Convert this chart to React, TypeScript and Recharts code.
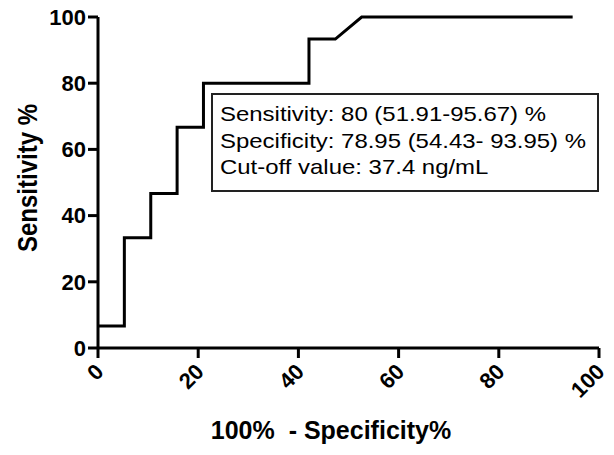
import React from 'react';
import { LineChart, Line, XAxis, YAxis } from 'recharts';

// ROC curve vertices (100% - specificity, sensitivity)
const fpr = [0, 5.26, 5.26, 10.53, 10.53, 15.79, 15.79, 21.05, 21.05, 42.11, 42.11, 47.37, 52.63, 94.74];
const sens = [6.67, 6.67, 33.33, 33.33, 46.67, 46.67, 66.67, 66.67, 80, 80, 93.33, 93.33, 100, 100];
const xTicks = [0, 20, 40, 60, 80, 100];
const yTicks = [0, 20, 40, 60, 80, 100];
const boxLines = [
  'Sensitivity: 80 (51.91-95.67) %',
  'Specificity: 78.95 (54.43- 93.95) %',
  'Cut-off value: 37.4 ng/mL',
];

const data = fpr.map((x, i) => ({ x, y: sens[i] }));
const font = 'Arial, "Liberation Sans", sans-serif';

const XTick = (props: any) => {
  const { x, y, payload } = props;
  return (
    <text
      x={x + 7}
      y={y + 13}
      transform={`rotate(-45, ${x + 7}, ${y + 13})`}
      textAnchor="end"
      fontFamily={font}
      fontWeight="bold"
      fontSize={22}
      fill="#000"
    >
      {payload.value}
    </text>
  );
};

export default function App() {
  return (
    <div style={{ position: 'absolute', left: 0, top: 0, width: 614, height: 455, background: '#fff' }}>
      <LineChart width={614} height={455} data={data} margin={{ top: 17, right: 15, left: 0, bottom: 0 }}>
        <XAxis
          type="number"
          dataKey="x"
          domain={[0, 100]}
          ticks={xTicks}
          height={107}
          stroke="#000"
          strokeWidth={3}
          tickSize={10}
          tick={<XTick />}
          interval={0}
        />
        <YAxis
          type="number"
          domain={[0, 100]}
          ticks={yTicks}
          width={98}
          stroke="#000"
          strokeWidth={3}
          tickSize={10}
          tick={{ fill: '#000', fontSize: 22, fontWeight: 'bold', fontFamily: font }}
          interval={0}
        />
        <Line
          type="linear"
          dataKey="y"
          stroke="#000"
          strokeWidth={3}
          dot={false}
          isAnimationActive={false}
        />
      </LineChart>
      <div
        style={{
          position: 'absolute',
          left: 28,
          top: 178,
          transform: 'translate(-50%, -50%) rotate(-90deg) scaleY(1.15)',
          whiteSpace: 'nowrap',
          fontFamily: font,
          fontWeight: 'bold',
          fontSize: 24,
        }}
      >
        Sensitivity %
      </div>
      <div
        style={{
          position: 'absolute',
          left: 331,
          top: 416,
          transform: 'translateX(-50%)',
          whiteSpace: 'pre',
          fontFamily: font,
          fontWeight: 'bold',
          fontSize: 25,
        }}
      >
        {'100%  - Specificity%'}
      </div>
      <div
        style={{
          position: 'absolute',
          left: 211,
          top: 93,
          width: 384,
          height: 95,
          border: '2px solid #222',
          fontFamily: font,
          fontSize: 21,
          lineHeight: '26.5px',
        }}
      >
        <div style={{ paddingLeft: 7, paddingTop: 6 }}>
          {boxLines.map((l) => (
            <div
              key={l}
              style={{ whiteSpace: 'pre', transform: 'scaleX(1.14)', transformOrigin: 'left center' }}
            >
              {l}
            </div>
          ))}
        </div>
      </div>
    </div>
  );
}
